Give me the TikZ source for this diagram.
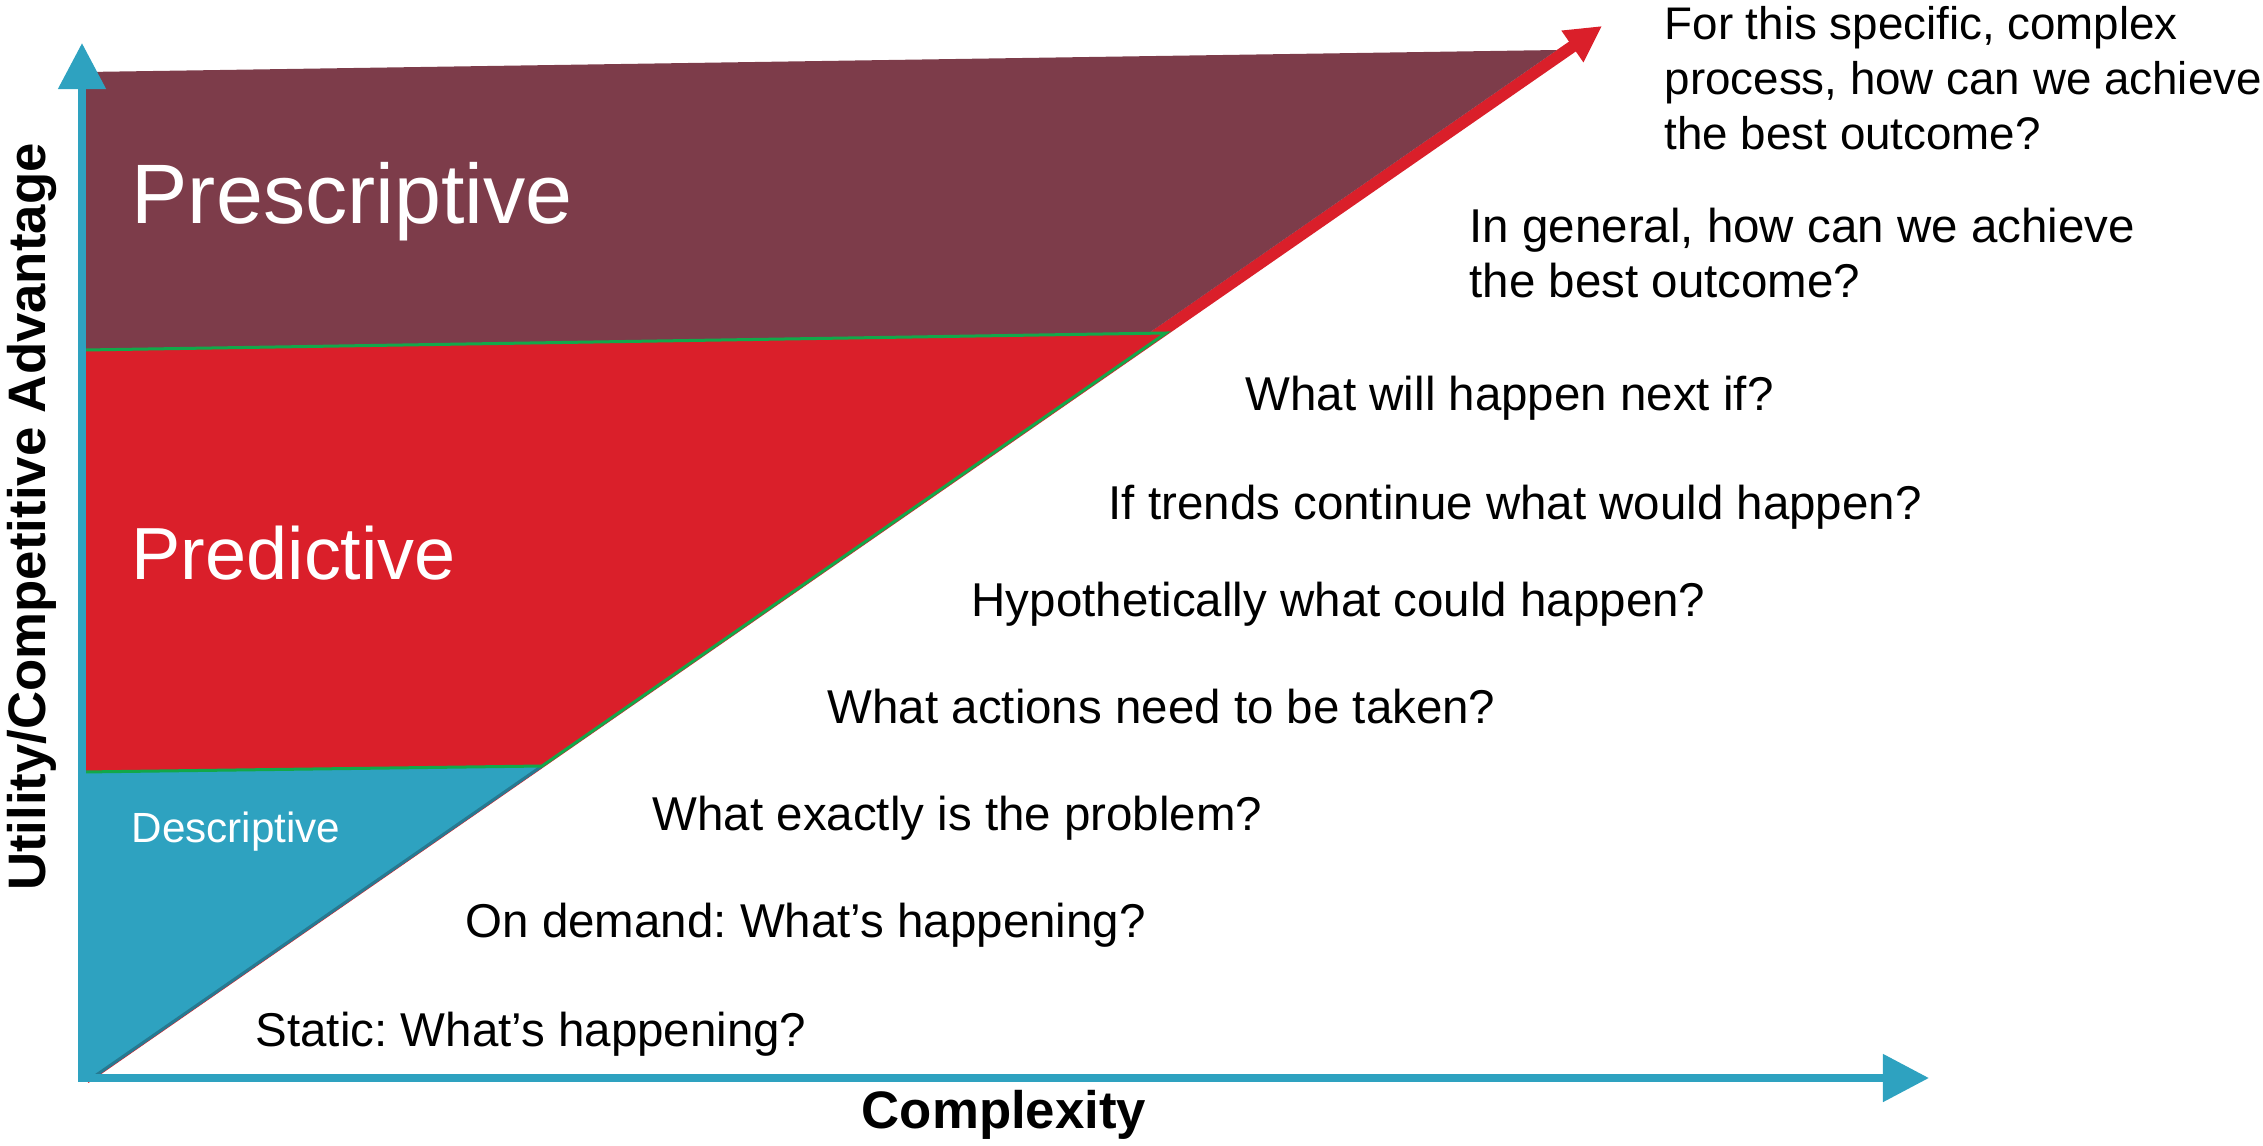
\documentclass[tikz,border=0pt]{standalone}
\usepackage{fontspec}
\setmainfont{Liberation Sans}
\usepackage{tikz}
\usetikzlibrary{arrows.meta}
\frenchspacing

\definecolor{presc}{RGB}{125,60,74}
\definecolor{pred}{RGB}{218,31,42}
\definecolor{desc}{RGB}{46,162,192}
\definecolor{descedge}{RGB}{37,122,146}
\definecolor{predge}{RGB}{18,168,74}

\begin{document}
\begin{tikzpicture}[x=0.01cm, y=-0.01cm,
  question/.style={anchor=base west, inner sep=0, align=left, font=\fontsize{13.5}{15.6}\selectfont},
  region/.style={white, anchor=base west, inner sep=0},
  axis/.style={desc, line width=0.08cm, line cap=rect, -{Triangle[length=0.46cm, width=0.46cm]}},
  axislabel/.style={anchor=base, inner sep=0, font=\bfseries\fontsize{15}{18}\selectfont}]
\useasboundingbox (0,0) rectangle (2263,1145);
\coordinate (o) at (82,1078);
\coordinate (ytip) at (82,43);
\coordinate (xtip) at (1929,1078);
\coordinate (start) at (85,1078);
\coordinate (end) at (1602,26);
% the red arrow goes under the bands
\draw[pred, line width=0.12cm, -{Triangle[length=0.36cm, width=0.36cm]}] (start) -- (end);
\fill[presc] (86,72) -- (1557,50) -- (1149,333) -- (86,350) -- cycle;
\fill[desc] (78,772) -- (542,766) -- (92,1078) -- (78,1078) -- cycle;
\draw[descedge, line width=0.03cm] (542,766) -- (92,1078);
\fill[pred] (84,350) -- (1166,333) -- (542,766) -- (82,772) -- cycle;
\draw[predge, line width=0.03cm] (84,350) -- (1166,333) -- (542,766) -- (82,772);
% axes
\draw[axis] (o) -- (ytip);
\draw[axis] (o) -- (xtip);
\node[axislabel] (complexity) at (1004,1128) {Complexity};
\node[axislabel, rotate=90] (utility) at (45,517) {Utility/Competitive Advantage};
% bands
\node[region, font=\fontsize{24}{28}\selectfont] (prescriptive) at (131,223) {Prescriptive};
\node[region, font=\fontsize{21}{25}\selectfont] (predictive) at (131,579) {Predictive};
\node[region, font=\fontsize{12}{14}\selectfont] (descriptive) at (131,842) {Descriptive};
% questions, bottom to top (base = last line)
\node[question] (static) at (255,1046) {Static: What’s happening?};
\node[question] (ondemand) at (465,937) {On demand: What’s happening?};
\node[question] (problem) at (652,830) {What exactly is the problem?};
\node[question] (actions) at (827,723) {What actions need to be taken?};
\node[question] (hypo) at (971,616) {Hypothetically what could happen?};
\node[question] (trends) at (1108,519) {If trends continue what would happen?};
\node[question] (next) at (1245,410) {What will happen next if?};
\node[question] (general) at (1469,297) {In general, how can we achieve\\the best outcome?};
\node[question, font=\fontsize{13}{15.6}\selectfont] (specific) at (1664,149) {For this specific, complex\\process, how can we achieve\\the best outcome?};
\end{tikzpicture}
\end{document}
